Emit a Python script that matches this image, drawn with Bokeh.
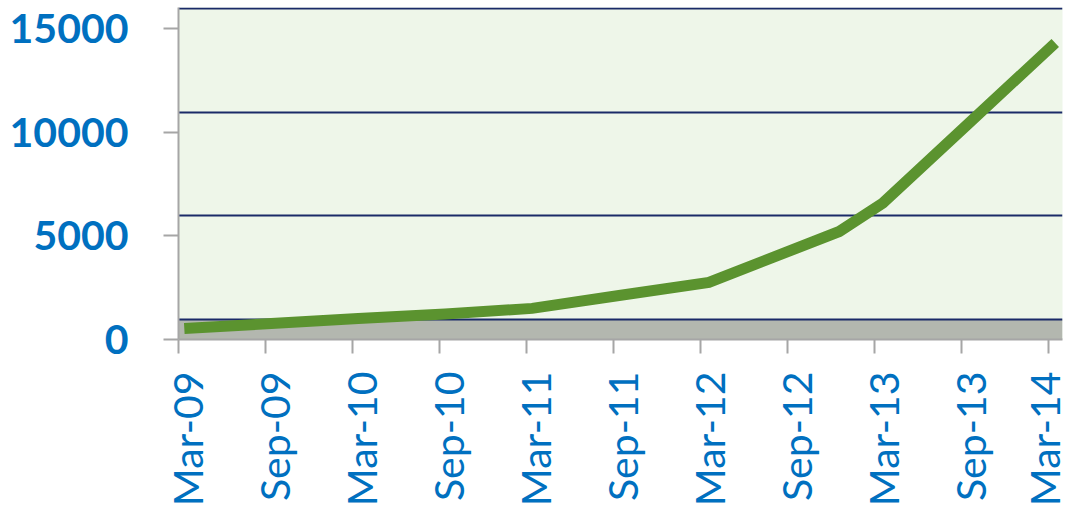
import math
from bokeh.plotting import figure
from bokeh.models import Range1d, FixedTicker, LinearAxis, BoxAnnotation
from bokeh.embed import file_html
from bokeh.resources import INLINE

# ---- data ----
tick_months = [0, 6, 12, 18, 24, 30, 36, 42, 48, 54, 60]
tick_labels = ["Mar-09", "Sep-09", "Mar-10", "Sep-10", "Mar-11", "Sep-11",
               "Mar-12", "Sep-12", "Mar-13", "Sep-13", "Mar-14"]
point_months = [0.4, 6.4, 12.4, 18.4, 24.4, 30.4, 36.6, 45.6, 48.6, 54.6, 60.5]
values = [530, 770, 1010, 1230, 1500, 2120, 2750, 5210, 6580, 10470, 14300]
y_ticks = [0, 5000, 10000, 15000]

# ---- style / layout ----
DEPTH = 960            # apparent 3-D depth of the back wall (in y units)
X0, X1 = 0, 61
Y0, Y1 = 0, 16010
FRAME_W, FRAME_H = 884, 332
LABEL_SHIFT_PX = 9
shift = LABEL_SHIFT_PX * (X1 - X0) / FRAME_W

BLUE = "#0070c0"
GRAY = "#a6a6a6"

p = figure(frame_width=FRAME_W, frame_height=FRAME_H,
           x_range=Range1d(X0, X1), y_range=Range1d(Y0, Y1),
           output_backend="svg", toolbar_location=None,
           min_border_left=178, min_border_top=7, min_border_right=6,
           min_border_bottom=0,
           background_fill_color="#eef6e9", border_fill_color="white",
           outline_line_color=None)

# floor of the 3-D chart
floor = BoxAnnotation(bottom=0, top=DEPTH, fill_color="#b3b7af", fill_alpha=1,
                      line_color=None, level="image")
p.add_layout(floor)

# back-wall gridlines
p.xgrid.visible = False
p.ygrid.ticker = FixedTicker(ticks=[t + DEPTH for t in y_ticks])
p.ygrid.grid_line_color = "#1a2a68"
p.ygrid.grid_line_width = 2

# series
p.line(point_months, values, line_width=11, line_color="#5b932f",
       line_cap="butt", line_join="miter")

# y axis
ya = p.yaxis[0]
ya.ticker = FixedTicker(ticks=y_ticks)
ya.axis_line_color = GRAY
ya.axis_line_width = 2
ya.major_tick_line_color = GRAY
ya.major_tick_line_width = 2
ya.major_tick_out = 15
ya.major_tick_in = 0
ya.minor_tick_line_color = None
ya.major_label_standoff = 35
ya.major_label_text_font = "Lato"
ya.major_label_text_font_style = "bold"
ya.major_label_text_font_size = "41px"
ya.major_label_text_color = BLUE

# x axis: ticks only
xa = p.xaxis[0]
xa.ticker = FixedTicker(ticks=tick_months)
xa.major_label_overrides = {m: "" for m in tick_months}
xa.axis_line_color = GRAY
xa.axis_line_width = 2
xa.major_tick_line_color = GRAY
xa.major_tick_line_width = 2
xa.major_tick_out = 14
xa.major_tick_in = 0
xa.minor_tick_line_color = None
xa.major_label_standoff = 0

# x axis: labels (slightly shifted, like the 3-D original)
p.extra_x_ranges = {"lab": Range1d(X0 - shift, X1 - shift)}
la = LinearAxis(x_range_name="lab", ticker=FixedTicker(ticks=tick_months),
                major_label_overrides={m: l for m, l in zip(tick_months, tick_labels)},
                axis_line_color=None, major_tick_line_color=None,
                minor_tick_line_color=None, major_tick_out=0, major_tick_in=0,
                major_label_orientation=math.pi / 2, major_label_standoff=18,
                major_label_text_font="Lato", major_label_text_font_size="41px",
                major_label_text_color=BLUE)
p.add_layout(la, "below")

open("out.html", "w").write(file_html(p, INLINE))
